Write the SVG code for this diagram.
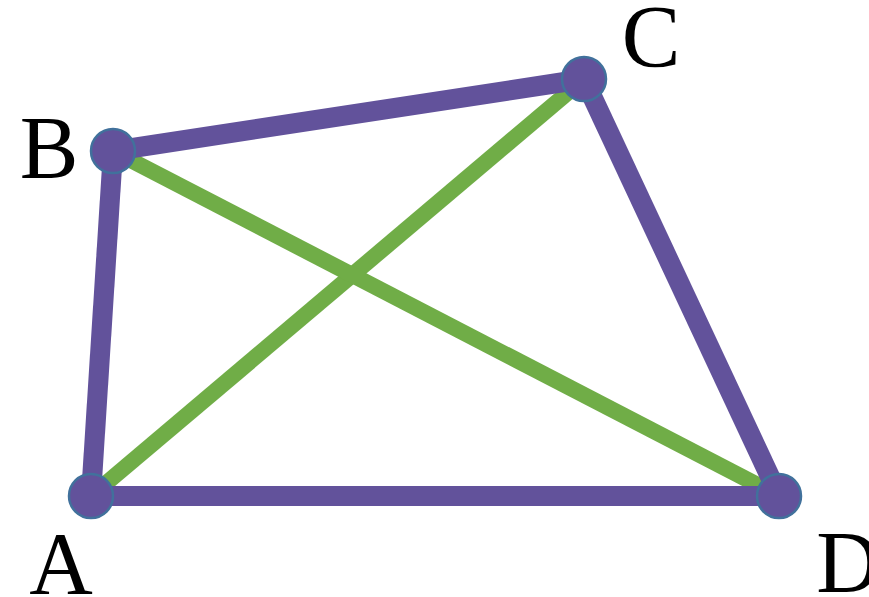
<svg xmlns="http://www.w3.org/2000/svg" width="869" height="597" viewBox="0 0 869 597">
<style>
.diag{stroke:#70AD47;stroke-width:16;fill:none}
.side{stroke:#62529B;stroke-width:20;fill:none;stroke-linecap:butt}
.pt{fill:#62529B;stroke:#41719C;stroke-width:2.5}
.lbl{font-family:"Liberation Serif","Times New Roman",serif;font-size:88px;fill:#000;text-anchor:middle}
</style>
<rect width="869" height="597" fill="#fff"/>
<g id="connectors">
<line class="diag" x1="91" y1="496" x2="584" y2="79"/>
<line class="diag" x1="113" y1="151" x2="779" y2="496"/>
<line class="side" x1="113" y1="151" x2="584" y2="79"/>
<line class="side" x1="584" y1="79" x2="779" y2="496"/>
<line class="side" x1="91" y1="496" x2="779" y2="496"/>
<line class="side" x1="91" y1="496" x2="113" y2="151"/>
</g>
<g id="A"><circle class="pt" cx="91" cy="496" r="22"/><text class="lbl" x="61" y="593">A</text></g>
<g id="B"><circle class="pt" cx="113" cy="151" r="22"/><text class="lbl" x="49" y="177">B</text></g>
<g id="C"><circle class="pt" cx="584" cy="79" r="22"/><text class="lbl" x="651" y="66">C</text></g>
<g id="D"><circle class="pt" cx="779" cy="496" r="22"/><text class="lbl" x="848" y="592">D</text></g>
</svg>
